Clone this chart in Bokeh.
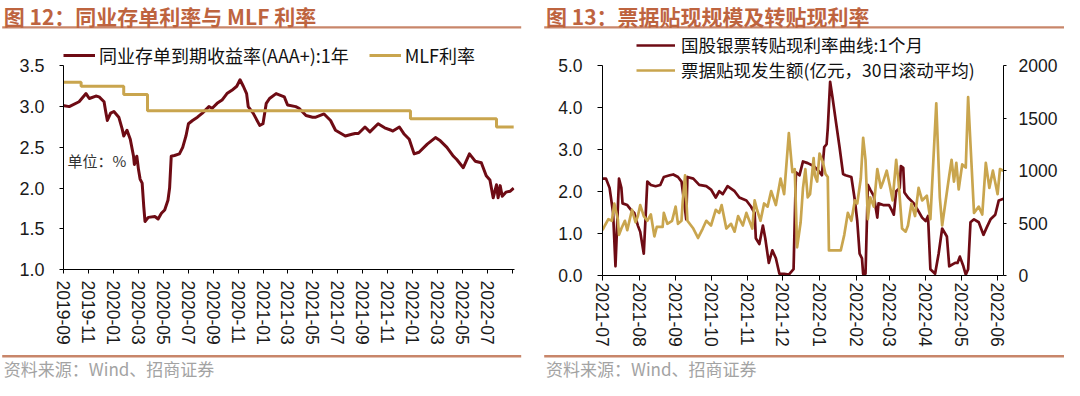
import pandas as pd
from bokeh.plotting import figure
from bokeh.models import (Range1d, LinearAxis, FixedTicker, Legend, LegendItem, Label,
                          BoxAnnotation, NumeralTickFormatter, DatetimeTickFormatter)
from bokeh.layouts import row, column
from bokeh.embed import file_html
from bokeh.resources import INLINE

# ---------------- data: left panel (图12) ----------------
ncd_dates = ["2019-09-23", "2019-09-25", "2019-10-07", "2019-10-31", "2019-11-17", "2019-11-25",
             "2019-12-11", "2019-12-19", "2019-12-31", "2020-01-04", "2020-01-08", "2020-01-16",
             "2020-01-24", "2020-02-05", "2020-02-13", "2020-02-17", "2020-02-25", "2020-03-04",
             "2020-03-12", "2020-03-14", "2020-03-20", "2020-03-24", "2020-03-28", "2020-04-02",
             "2020-04-06", "2020-04-09", "2020-04-17", "2020-05-03", "2020-05-11", "2020-05-19",
             "2020-05-27", "2020-06-04", "2020-06-08", "2020-06-12", "2020-06-20", "2020-07-02",
             "2020-07-10", "2020-07-18", "2020-07-24", "2020-08-03", "2020-08-15", "2020-08-27",
             "2020-09-12", "2020-09-20", "2020-10-02", "2020-10-14", "2020-10-26", "2020-11-07",
             "2020-11-19", "2020-11-27", "2020-12-05", "2020-12-13", "2020-12-17", "2020-12-29",
             "2021-01-14", "2021-01-22", "2021-01-30", "2021-02-07", "2021-02-23", "2021-03-15",
             "2021-03-23", "2021-04-12", "2021-04-20", "2021-05-07", "2021-05-23", "2021-05-31",
             "2021-06-20", "2021-07-06", "2021-07-14", "2021-07-18", "2021-08-11", "2021-08-27",
             "2021-09-04", "2021-09-12", "2021-09-28", "2021-10-10", "2021-10-30", "2021-11-15",
             "2021-12-01", "2021-12-05", "2021-12-21", "2022-01-02", "2022-01-14", "2022-01-26",
             "2022-02-07", "2022-02-27", "2022-03-19", "2022-03-31", "2022-04-16", "2022-05-02",
             "2022-05-10", "2022-05-26", "2022-06-10", "2022-06-24", "2022-07-09", "2022-07-21",
             "2022-07-30", "2022-08-07", "2022-08-15", "2022-08-19", "2022-08-24", "2022-08-29",
             "2022-09-07", "2022-09-17", "2022-09-26"]
ncd_yield = [3.01, 3.01, 3.00, 3.06, 3.16, 3.10,
             3.13, 3.12, 3.06, 2.94, 2.83, 2.92,
             2.94, 2.87, 2.73, 2.64, 2.71, 2.60,
             2.39, 2.29, 2.39, 2.23, 2.11, 2.06,
             1.77, 1.59, 1.64, 1.65, 1.62, 1.69,
             1.73, 1.85, 2.00, 2.39, 2.40, 2.42,
             2.50, 2.64, 2.79, 2.83, 2.87, 2.92,
             3.00, 2.98, 3.04, 3.08, 3.16, 3.20,
             3.25, 3.33, 3.25, 3.16, 3.00, 2.92,
             2.77, 2.79, 3.04, 3.10, 3.16, 3.12,
             3.02, 3.00, 2.98, 2.89, 2.87, 2.87,
             2.91, 2.83, 2.75, 2.71, 2.64, 2.66,
             2.67, 2.67, 2.75, 2.69, 2.79, 2.74,
             2.71, 2.70, 2.75, 2.66, 2.60, 2.42,
             2.44, 2.54, 2.62, 2.58, 2.50, 2.39,
             2.35, 2.25, 2.42, 2.33, 2.31, 2.15,
             2.10, 1.88, 2.04, 1.88, 2.03, 1.90,
             1.95, 1.96, 2.00]
mlf_dates = ["2019-09-23", "2019-11-05", "2020-02-17", "2020-04-15", "2022-01-17", "2022-08-15", "2022-09-26"]
mlf_rate = [3.30, 3.25, 3.15, 2.95, 2.85, 2.75, 2.75]
left_tick_dates = ["2019-09-23", "2019-11-23", "2020-01-23", "2020-03-23", "2020-05-23", "2020-07-23",
                   "2020-09-23", "2020-11-23", "2021-01-23", "2021-03-23", "2021-05-23", "2021-07-23",
                   "2021-09-23", "2021-11-23", "2022-01-23", "2022-03-23", "2022-05-23", "2022-07-23",
                   "2022-09-23"]
left_tick_labels = ["2019-09", "2019-11", "2020-01", "2020-03", "2020-05", "2020-07",
                    "2020-09", "2020-11", "2021-01", "2021-03", "2021-05", "2021-07",
                    "2021-09", "2021-11", "2022-01", "2022-03", "2022-05", "2022-07", ""]
left_y_ticks = [1.0, 1.5, 2.0, 2.5, 3.0, 3.5]

# ---------------- data: right panel (图13) ----------------
rate_dates = ["2021-07-01", "2021-07-04", "2021-07-07", "2021-07-10", "2021-07-12", "2021-07-15",
              "2021-07-17", "2021-07-18", "2021-07-22", "2021-07-25", "2021-07-28", "2021-07-31",
              "2021-08-02", "2021-08-05", "2021-08-08", "2021-08-11", "2021-08-15", "2021-08-19",
              "2021-08-22", "2021-08-27", "2021-08-30", "2021-09-03", "2021-09-06", "2021-09-09",
              "2021-09-10", "2021-09-11", "2021-09-16", "2021-09-21", "2021-09-27", "2021-10-01",
              "2021-10-05", "2021-10-08", "2021-10-11", "2021-10-15", "2021-10-21", "2021-10-25",
              "2021-10-31", "2021-11-04", "2021-11-07", "2021-11-08", "2021-11-11", "2021-11-14",
              "2021-11-16", "2021-11-19", "2021-11-22", "2021-11-25", "2021-11-28", "2021-12-02",
              "2021-12-06", "2021-12-10", "2021-12-12", "2021-12-15", "2021-12-18", "2021-12-22",
              "2021-12-27", "2021-12-31", "2022-01-03", "2022-01-05", "2022-01-07", "2022-01-08",
              "2022-01-10", "2022-01-12", "2022-01-15", "2022-01-18", "2022-01-21", "2022-01-23",
              "2022-01-28", "2022-01-31", "2022-02-02", "2022-02-04", "2022-02-06", "2022-02-07",
              "2022-02-09", "2022-02-11", "2022-02-13", "2022-02-16", "2022-02-19", "2022-02-20",
              "2022-02-24", "2022-03-01", "2022-03-03", "2022-03-05", "2022-03-07", "2022-03-10",
              "2022-03-11", "2022-03-13", "2022-03-14", "2022-03-17", "2022-03-22", "2022-03-26",
              "2022-03-29", "2022-04-01", "2022-04-03", "2022-04-05", "2022-04-09", "2022-04-12",
              "2022-04-15", "2022-04-19", "2022-04-21", "2022-04-26", "2022-04-28", "2022-04-30",
              "2022-05-03", "2022-05-05", "2022-05-07", "2022-05-09", "2022-05-12", "2022-05-16",
              "2022-05-20", "2022-05-23", "2022-05-26", "2022-05-30", "2022-06-02", "2022-06-06"]
rate_1m = [2.31, 2.31, 2.09, 1.49, 0.22, 2.31,
           2.09, 1.72, 1.68, 1.57, 1.49, 1.19,
           1.04, 0.52, 2.24, 2.16, 2.13, 2.16,
           2.35, 2.39, 2.41, 2.35, 2.24, 1.57,
           1.34, 2.35, 2.31, 2.16, 2.13, 2.05,
           1.86, 2.01, 1.94, 2.13, 2.01, 1.86,
           1.79, 1.64, 1.49, 0.89, 0.75, 1.19,
           0.89, 0.30, 0.60, 0.41, 0.04, 0.04,
           0.02, 0.15, 2.46, 2.39, 2.72, 2.68,
           2.61, 2.50, 2.39, 3.06, 3.13, 3.51,
           4.62, 4.25, 3.65, 3.06, 2.42, 2.39,
           2.35, 1.79, 1.30, 0.52, 0.41, 0.04,
           0.04, 2.16, 2.05, 1.90, 1.38, 1.72,
           1.68, 1.68, 1.57, 1.45, 2.01, 2.09,
           2.61, 2.57, 1.98, 1.86, 1.72, 1.53,
           1.38, 1.30, 1.42, 0.15, 0.04, 0.52,
           1.12, 0.93, 0.22, 0.30, 0.30, 0.45,
           0.22, 0.02, 0.15, 1.27, 1.34, 1.27,
           0.97, 1.16, 1.34, 1.45, 1.79, 1.83]
bill_dates = ["2021-07-01", "2021-07-03", "2021-07-06", "2021-07-09", "2021-07-11", "2021-07-14",
              "2021-07-15", "2021-07-17", "2021-07-20", "2021-07-22", "2021-07-26", "2021-07-29",
              "2021-07-31", "2021-08-02", "2021-08-05", "2021-08-08", "2021-08-11", "2021-08-14",
              "2021-08-16", "2021-08-21", "2021-08-22", "2021-08-25", "2021-08-29", "2021-09-01",
              "2021-09-03", "2021-09-06", "2021-09-07", "2021-09-09", "2021-09-11", "2021-09-16",
              "2021-09-20", "2021-09-24", "2021-09-27", "2021-10-01", "2021-10-05", "2021-10-08",
              "2021-10-10", "2021-10-14", "2021-10-18", "2021-10-21", "2021-10-24", "2021-10-28",
              "2021-10-31", "2021-11-02", "2021-11-05", "2021-11-07", "2021-11-09", "2021-11-12",
              "2021-11-15", "2021-11-18", "2021-11-21", "2021-11-25", "2021-11-29", "2021-12-02",
              "2021-12-06", "2021-12-09", "2021-12-11", "2021-12-13", "2021-12-16", "2021-12-18",
              "2021-12-20", "2021-12-22", "2021-12-24", "2021-12-27", "2021-12-28", "2021-12-30",
              "2022-01-01", "2022-01-04", "2022-01-06", "2022-01-08", "2022-01-09", "2022-01-19",
              "2022-01-22", "2022-01-25", "2022-01-28", "2022-01-31", "2022-02-02", "2022-02-05",
              "2022-02-07", "2022-02-09", "2022-02-11", "2022-02-13", "2022-02-16", "2022-02-19",
              "2022-02-22", "2022-02-24", "2022-02-27", "2022-03-02", "2022-03-04", "2022-03-07",
              "2022-03-09", "2022-03-12", "2022-03-15", "2022-03-17", "2022-03-20", "2022-03-23",
              "2022-03-26", "2022-03-29", "2022-04-02", "2022-04-05", "2022-04-10", "2022-04-13",
              "2022-04-15", "2022-04-18", "2022-04-21", "2022-04-23", "2022-04-25", "2022-04-27",
              "2022-04-29", "2022-05-02", "2022-05-05", "2022-05-07", "2022-05-09", "2022-05-12",
              "2022-05-16", "2022-05-19", "2022-05-22", "2022-05-25", "2022-05-28", "2022-06-01",
              "2022-06-03", "2022-06-06"]
bill_amt = [433, 477, 537, 522, 687, 537,
            388, 448, 522, 433, 627, 508,
            567, 672, 567, 522, 582, 373,
            463, 463, 597, 493, 522, 657,
            493, 522, 702, 955, 522, 448,
            358, 448, 522, 477, 627, 597,
            672, 448, 493, 418, 567, 477,
            597, 537, 448, 716, 627, 522,
            687, 657, 806, 672, 925, 776,
            1358, 985, 1015, 269, 508, 836,
            1015, 746, 776, 1119, 955, 896,
            1164, 1075, 970, 940, 239, 239,
            388, 597, 522, 716, 687, 925,
            1314, 1104, 537, 746, 657, 1015,
            836, 896, 1000, 836, 716, 1104,
            896, 448, 418, 477, 687, 567,
            836, 716, 761, 537, 1642, 746,
            477, 716, 955, 1104, 896, 1075,
            821, 1060, 1030, 1702, 1254, 597,
            657, 582, 1075, 836, 1000, 776,
            1015, 1000]
right_tick_dates = ["2021-07-01", "2021-08-01", "2021-09-01", "2021-10-01", "2021-11-01", "2021-12-01",
                    "2022-01-01", "2022-02-01", "2022-03-01", "2022-04-01", "2022-05-01", "2022-06-01"]
right_tick_labels = ["2021-07", "2021-08", "2021-09", "2021-10", "2021-11", "2021-12",
                     "2022-01", "2022-02", "2022-03", "2022-04", "2022-05", "2022-06"]
right_y_ticks = [0, 1, 2, 3, 4, 5]
right_y2_ticks = [0, 500, 1000, 1500, 2000]

# ---------------- styles ----------------
RED = "#6E0B14"
GOLD = "#C9A54E"
TITLE_C = "#BE643F"
RULE_C = "#C8866A"
SRC_C = "#A3A3A3"
CJK = "Noto Sans CJK SC"
NUM = "Liberation Sans"
COL_W = 532
HDR_H, MAIN_H, FTR_H = 31, 318, 31


def ms(d):
    return pd.Timestamp(d).value / 1e6


def band(height, rule, rule_y, text, text_x, text_y, title=False):
    f = figure(width=COL_W, height=height, x_range=Range1d(0, COL_W), y_range=Range1d(0, height),
               x_axis_location=None, y_axis_location=None, toolbar_location=None,
               output_backend="svg", min_border=0)
    f.grid.visible = False
    f.outline_line_color = None
    f.add_layout(BoxAnnotation(left=rule[0], right=rule[1], bottom=rule_y - 1.2, top=rule_y + 1.2,
                               fill_color=RULE_C, fill_alpha=1.0, line_alpha=0))
    if title:
        f.add_layout(Label(x=text_x, y=text_y, text=text, text_font=CJK, text_font_style="bold",
                           text_font_size="21px", text_color=TITLE_C, text_baseline="middle"))
    else:
        f.add_layout(Label(x=text_x, y=text_y, text=text, text_font=CJK, text_font_size="17px",
                           text_color=SRC_C, text_baseline="middle"))
    return f


def style_axis(ax, size="17px"):
    ax.axis_line_color = "#000000"
    ax.axis_line_width = 1
    ax.major_tick_line_color = "#000000"
    ax.major_tick_in = 0
    ax.minor_tick_in = 0
    ax.minor_tick_out = 0
    ax.major_label_text_font = NUM
    ax.major_label_text_font_size = size
    ax.major_label_text_color = "#1a1a1a"


# ---------------- left main ----------------
ncd_x = pd.to_datetime(ncd_dates)
mlf_x = pd.to_datetime(mlf_dates)

pL = figure(width=COL_W, height=MAIN_H, x_axis_type="datetime",
            x_range=Range1d(pd.Timestamp("2019-09-23"), pd.Timestamp("2022-09-28")),
            y_range=Range1d(1.0, 1.0 + 232 / 81.44),
            toolbar_location=None, output_backend="svg",
            min_border_left=63, min_border_right=18, min_border_top=6, min_border_bottom=80)
pL.grid.visible = False
pL.outline_line_color = None
r_ncd = pL.line(ncd_x, ncd_yield, line_color=RED, line_width=3, line_join="round")
r_mlf = pL.step(mlf_x, mlf_rate, mode="after", line_color=GOLD, line_width=3)

xa = pL.xaxis[0]
style_axis(xa, "17.5px")
xa.ticker = FixedTicker(ticks=[ms(d) for d in left_tick_dates])
xa.formatter = DatetimeTickFormatter(days="%Y-%m", months="%Y-%m", years="%Y-%m")
xa.major_label_overrides = {ms(d): lab for d, lab in zip(left_tick_dates, left_tick_labels)}
xa.major_label_orientation = "vertical"
xa.major_tick_out = 4
xa.major_label_standoff = 7

ya = pL.yaxis[0]
style_axis(ya, "18px")
ya.ticker = FixedTicker(ticks=left_y_ticks)
ya.formatter = NumeralTickFormatter(format="0.0")
ya.bounds = (1.0, 3.5)
ya.major_tick_out = 4
ya.major_label_standoff = 15

legL = Legend(items=[LegendItem(label="同业存单到期收益率(AAA+):1年", renderers=[r_ncd]),
                     LegendItem(label="MLF利率", renderers=[r_mlf])],
              location=(0, 201), orientation="horizontal", spacing=20, padding=0, margin=0,
              glyph_width=32, glyph_height=26, label_height=26, label_standoff=4,
              label_text_font=CJK, label_text_font_size="18px", label_text_color="#111111",
              border_line_color=None, background_fill_alpha=0)
pL.add_layout(legL, "center")
pL.add_layout(Label(x=4, y=109, x_units="screen", y_units="screen", text="单位：%",
                    text_font=CJK, text_font_size="15px", text_color="#333333",
                    text_baseline="middle"))

# ---------------- right main ----------------
rate_x = pd.to_datetime(rate_dates)
bill_x = pd.to_datetime(bill_dates)
R_TOP = 245 / 42.1

pR = figure(width=COL_W, height=MAIN_H, x_axis_type="datetime",
            x_range=Range1d(pd.Timestamp("2021-07-01"), pd.Timestamp("2022-06-06")),
            y_range=Range1d(0, R_TOP),
            toolbar_location=None, output_backend="svg",
            min_border_left=70, min_border_right=61, min_border_top=0, min_border_bottom=73)
pR.grid.visible = False
pR.outline_line_color = None
pR.extra_y_ranges = {"amt": Range1d(0, 2000 / 5 * R_TOP)}
r_rate = pR.line(rate_x, rate_1m, line_color=RED, line_width=2.7, line_join="round")
r_bill = pR.line(bill_x, bill_amt, line_color=GOLD, line_width=2.7, line_join="round",
                 y_range_name="amt")

xb = pR.xaxis[0]
style_axis(xb, "17.5px")
xb.ticker = FixedTicker(ticks=[ms(d) for d in right_tick_dates])
xb.formatter = DatetimeTickFormatter(days="%Y-%m", months="%Y-%m", years="%Y-%m")
xb.major_label_overrides = {ms(d): lab for d, lab in zip(right_tick_dates, right_tick_labels)}
xb.major_label_orientation = "vertical"
xb.major_tick_out = 5
xb.major_label_standoff = 2

yb = pR.yaxis[0]
style_axis(yb, "17.5px")
yb.ticker = FixedTicker(ticks=right_y_ticks)
yb.formatter = NumeralTickFormatter(format="0.0")
yb.bounds = (0, 5)
yb.major_tick_out = 5
yb.major_label_standoff = 15

yb2 = LinearAxis(y_range_name="amt")
style_axis(yb2, "17.5px")
yb2.ticker = FixedTicker(ticks=right_y2_ticks)
yb2.formatter = NumeralTickFormatter(format="0")
yb2.bounds = (0, 2000)
yb2.major_tick_out = 3
yb2.major_label_standoff = 12
pR.add_layout(yb2, "right")

legR = Legend(items=[LegendItem(label="国股银票转贴现利率曲线:1个月", renderers=[r_rate]),
                     LegendItem(label="票据贴现发生额(亿元，30日滚动平均)", renderers=[r_bill])],
              location=(34, 193), orientation="vertical", spacing=0, padding=0, margin=0,
              glyph_width=39, glyph_height=24, label_height=24, label_standoff=6,
              label_text_font=CJK, label_text_font_size="17.5px", label_text_color="#111111",
              border_line_color=None, background_fill_alpha=0)
pR.add_layout(legR, "center")

# ---------------- headers / footers ----------------
hL = band(HDR_H, (1.7, 520.7), HDR_H - 26.9, "图 12：同业存单利率与 MLF 利率", 3.3, HDR_H - 15.3, title=True)
hR = band(HDR_H, (11.7, 532), HDR_H - 26.9, "图 13：票据贴现规模及转贴现利率", 13.5, HDR_H - 15.3, title=True)
fL = band(FTR_H, (1.7, 520.7), FTR_H - 6.8, "资料来源：Wind、招商证券", 3.3, FTR_H - 18.5)
fR = band(FTR_H, (11.7, 532), FTR_H - 6.8, "资料来源：Wind、招商证券", 13.5, FTR_H - 18.5)

# each band is wrapped in its own column so its frame is not aligned with the chart frame
left_col = column(column(hL), pL, column(fL))
right_col = column(column(hR), pR, column(fR))
layout = row(left_col, right_col)

open("out.html", "w").write(file_html(layout, INLINE))
